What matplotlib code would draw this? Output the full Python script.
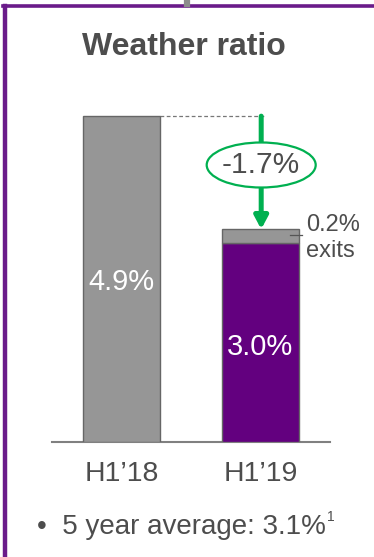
import matplotlib
matplotlib.use("Agg")
import matplotlib.pyplot as plt
from matplotlib.patches import Ellipse
from matplotlib.lines import Line2D

plt.rcParams['font.family'] = ['Liberation Sans', 'DejaVu Sans']

categories = ["H1\u201918", "H1\u201919"]
base_values = [4.9, 3.0]
exits_values = [0.0, 0.2]
value_labels = ["4.9%", "3.0%"]
change_label = "-1.7%"
exits_label = "0.2%\nexits"
title = "Weather ratio"
footnote = "\u2022  5 year average: 3.1%"
footnote_mark = "1"

GREY = "#969696"
GREY_EDGE = "#666666"
PURPLE = "#63007f"
GREEN = "#00b050"
TEXT = "#4d4d4d"
BORDER = "#6a1b8a"

W, H = 374, 557
fig = plt.figure(figsize=(W / 100, H / 100), dpi=100)

def fx(px):
    return px / W

def fy(py):
    return 1 - py / H

# border
fig.add_artist(Line2D([fx(5), fx(5)], [fy(5.5), 0], color=BORDER, lw=3.2))
fig.add_artist(Line2D([fx(3.5), 1], [fy(5.5), fy(5.5)], color=BORDER, lw=2.6))
fig.add_artist(Line2D([fx(187), fx(187)], [1, fy(4)], color="#8c8c8c", lw=4.5))

fig.text(fx(184), fy(47), title, ha="center", va="center", fontsize=23,
         fontweight="bold", color=TEXT)

# axes: baseline at y=442px, 66.5 px per %
base_px = 442
ppu = 66.5
ymax = 5.5
ax = fig.add_axes([fx(52), fy(base_px), fx(278), ymax * ppu / H])
ax.set_xlim(-0.5, 1.5)
ax.set_ylim(0, ymax)
ax.patch.set_alpha(0)
for s in ["top", "right", "left"]:
    ax.spines[s].set_visible(False)
ax.spines["bottom"].set_color("#808080")
ax.spines["bottom"].set_linewidth(1.5)
ax.set_yticks([])
x = [0, 1]
width = 77 / 139
ax.bar(x[0], base_values[0], width, color=GREY, edgecolor=GREY_EDGE, lw=1.0, zorder=3)
ax.bar(x[1], base_values[1], width, color=PURPLE, edgecolor=GREY_EDGE, lw=1.0, zorder=3)
ax.bar(x[1], exits_values[1], width, bottom=base_values[1], color=GREY,
       edgecolor=GREY_EDGE, lw=1.0, zorder=3)
ax.set_xticks(x)
ax.set_xticklabels(categories, fontsize=20.5, color=TEXT)
ax.tick_params(axis="x", length=0, pad=14)

ax.text(x[0], base_values[0] * 0.49, value_labels[0], ha="center", va="center",
        color="white", fontsize=21, zorder=4)
ax.text(x[1], base_values[1] * 0.477, value_labels[1], ha="center", va="center",
        color="white", fontsize=21, zorder=4)

# dashed connector
top_new = base_values[1] + exits_values[1]
arrow_x = x[1] + 0.005
ax.plot([x[0] + width / 2, arrow_x + 0.03], [base_values[0]] * 2, ls=(0, (3, 2)),
        color="#777777", lw=0.9, zorder=2)
# arrow
ax.annotate("", xy=(arrow_x, top_new), xytext=(arrow_x, base_values[0]),
            arrowprops=dict(arrowstyle="-|>,head_length=0.75,head_width=0.4",
                            color=GREEN, lw=3.6, shrinkA=0, shrinkB=0), zorder=5)
mid_y = (base_px - 165) / ppu
ell = Ellipse((arrow_x, mid_y), 109 / 139, 45 / ppu, facecolor="white",
              edgecolor=GREEN, lw=1.6, zorder=6)
ax.add_patch(ell)
ax.text(arrow_x, mid_y, change_label, ha="center", va="center", fontsize=21.5,
        color=TEXT, zorder=7)

# exits label
ax.plot([x[1] + 0.21, x[1] + 0.30], [base_values[1] + exits_values[1] / 2 + 0.02] * 2,
        color="#555555", lw=0.9, zorder=5, clip_on=False)
ax.text(x[1] + 0.33, (base_px - 238) / ppu, exits_label, ha="left", va="center",
        fontsize=17, color=TEXT, linespacing=1.2, clip_on=False)

# footnote
ft = fig.text(fx(37), fy(527), footnote, ha="left", va="center", fontsize=20, color=TEXT)
fig.canvas.draw()
bb = ft.get_window_extent()
fig.text(bb.x1 / W + fx(1.5), fy(517), footnote_mark, ha="left", va="center",
         fontsize=10, color=TEXT)

fig.savefig("out.png", dpi=100)
